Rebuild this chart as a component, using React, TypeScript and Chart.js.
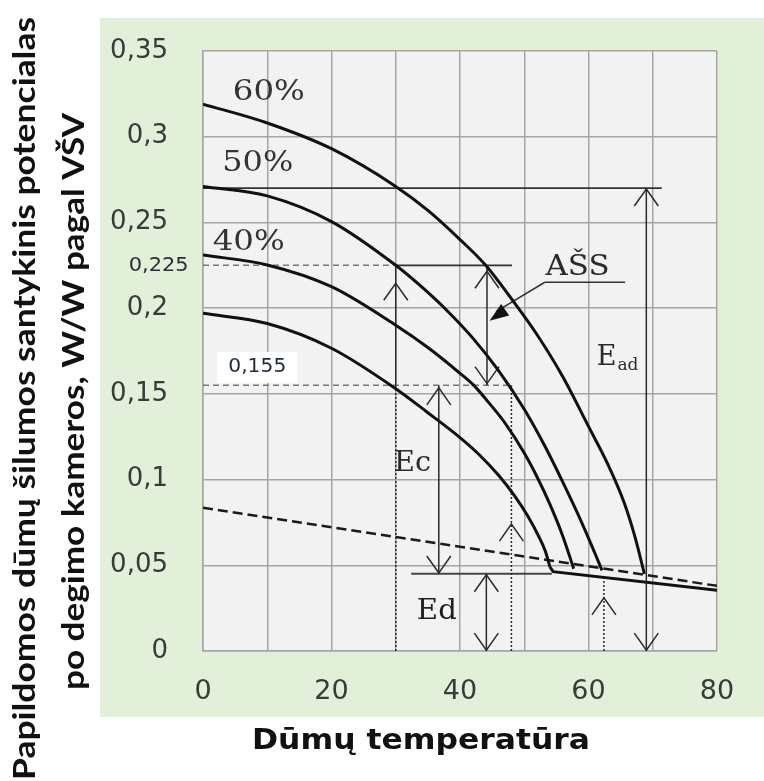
import React, { useEffect, useRef } from 'react';
import { Chart, registerables } from 'chart.js';
Chart.register(...registerables);

// ---- data ----
const X_TICK_VALUES = [0, 20, 40, 60, 80];
const X_TICK_LABELS = ['0', '20', '40', '60', '80'];
const Y_TICK_LABELS = ['0', '0,05', '0,1', '0,15', '0,2', '0,25', '0,3', '0,35'];

const T60 = [0, 10, 20, 30, 35, 40, 44, 48, 52, 56, 60, 63, 65.5, 67.2, 68.7];
const P60 = [0.319, 0.308, 0.293, 0.271, 0.257, 0.240, 0.225, 0.2055, 0.1845, 0.160, 0.131, 0.109, 0.087, 0.067, 0.045];

const T50 = [0, 10, 20, 30, 34, 38, 42, 46, 50, 53, 56, 59, 61, 62.1];
const P50 = [0.271, 0.2655, 0.2505, 0.225, 0.2125, 0.1985, 0.1825, 0.1635, 0.141, 0.121, 0.0985, 0.0745, 0.057, 0.047];

const T40 = [0, 10, 20, 30, 35, 40, 42, 44, 47, 50, 52, 54, 56, 57.7];
const P40 = [0.231, 0.2252, 0.2125, 0.190, 0.177, 0.162, 0.1555, 0.147, 0.133, 0.1155, 0.1015, 0.0855, 0.067, 0.048];

const T30 = [0, 10, 20, 30, 35, 40, 43, 46, 48.5, 50.5, 52.3, 53.3, 54];
const P30 = [0.197, 0.191, 0.1766, 0.153, 0.139, 0.1245, 0.1145, 0.1025, 0.0905, 0.079, 0.0665, 0.058, 0.049];

const BASE_T = [54, 54.5, 80];
const BASE_P = [0.049, 0.0463, 0.0355];

const DASH_T = [0, 80];
const DASH_P = [0.0836, 0.038];

// annotation levels
const LEVEL_EAD = 0.27;
const LEVEL_HI = 0.225;
const LEVEL_LO = 0.155;
const LEVEL_ED = 0.045;

const SANS = '"DejaVu Sans", Verdana, sans-serif';
const SERIF = '"DejaVu Serif", "Liberation Serif", serif';
const TITLE = 'Lato, "Open Sans", sans-serif';

const GRID = '#a5a5a5';
const INK = '#2a2a2a';

function fitText(ctx: CanvasRenderingContext2D, text: string, cx: number, baseY: number, font: string, width: number, rot = 0, baseline: CanvasTextBaseline = 'alphabetic') {
  ctx.save();
  ctx.font = font;
  const w = ctx.measureText(text).width;
  ctx.translate(cx, baseY);
  if (rot) ctx.rotate(rot);
  ctx.scale(width / w, 1);
  ctx.textAlign = 'center';
  ctx.textBaseline = baseline;
  ctx.fillText(text, 0, 0);
  ctx.restore();
}

const decor = {
  id: 'decor',
  beforeDraw(chart: any) {
    const { ctx, chartArea: a } = chart;
    ctx.save();
    ctx.fillStyle = '#ffffff';
    ctx.fillRect(0, 0, chart.width, chart.height);
    ctx.fillStyle = '#e2efd9';
    ctx.fillRect(100, 18, chart.width - 100, 699);
    ctx.fillStyle = '#f2f2f2';
    ctx.fillRect(a.left, a.top, a.right - a.left, a.bottom - a.top);
    ctx.fillStyle = '#111';
    fitText(ctx, 'Papildomos dūmų šilumos santykinis potencialas', 35, 398.5, `bold 31px ${TITLE}`, 763, -Math.PI / 2);
    fitText(ctx, 'po degimo kameros, W/W pagal VŠV', 84, 401.5, `bold 31px ${TITLE}`, 577, -Math.PI / 2);
    fitText(ctx, 'Dūmų temperatūra', 421, 749, `bold 29px ${SANS}`, 338);
    ctx.restore();
  },
  beforeDatasetsDraw(chart: any) {
    const { ctx } = chart;
    const xs = chart.scales.x, ys = chart.scales.y;
    const px = (v: number) => xs.getPixelForValue(v);
    const py = (v: number) => ys.getPixelForValue(v);
    ctx.save();
    ctx.lineCap = 'butt';
    const line = (x1: number, y1: number, x2: number, y2: number, dash: number[] = [], color = INK, w = 1.5) => {
      ctx.beginPath();
      ctx.setLineDash(dash);
      ctx.strokeStyle = color;
      ctx.lineWidth = w;
      ctx.moveTo(px(x1), py(y1));
      ctx.lineTo(px(x2), py(y2));
      ctx.stroke();
      ctx.setLineDash([]);
    };
    const chev = (x: number, y: number, dir: number) => {
      const X = px(x), Y = py(y);
      ctx.beginPath();
      ctx.strokeStyle = INK;
      ctx.lineWidth = 1.5;
      ctx.moveTo(X - 12, Y - dir * 17);
      ctx.lineTo(X, Y);
      ctx.lineTo(X + 12, Y - dir * 17);
      ctx.stroke();
    };
    // white box behind 0,155
    ctx.fillStyle = '#ffffff';
    ctx.fillRect(px(8.45) - 40, py(0.1654) - 15.5, 80, 31);

    // horizontal reference lines
    line(0, LEVEL_EAD, 71.4, LEVEL_EAD, [], '#333', 1.8);
    line(0, LEVEL_HI, 30, LEVEL_HI, [6, 4], '#777');
    line(30, LEVEL_HI, 48.1, LEVEL_HI, [], '#333', 1.8);
    line(0, LEVEL_LO, 48.2, LEVEL_LO, [6, 4], '#777');
    line(32.4, LEVEL_ED, 54.3, LEVEL_ED, [], '#444', 2);

    // x = 30
    line(30, 0, 30, LEVEL_LO, [2, 2]);
    line(30, LEVEL_LO, 30, LEVEL_HI);
    chev(30, 0.2145, -1);
    // AŠS arrow
    line(44.2, LEVEL_LO, 44.2, LEVEL_HI);
    chev(44.2, 0.2215, -1);
    chev(44.2, 0.156, 1);
    // Ec arrow
    line(36.7, LEVEL_ED, 36.7, LEVEL_LO);
    chev(36.7, 0.1535, -1);
    chev(36.7, 0.0455, 1);
    // Ed arrow
    line(44.1, 0, 44.1, LEVEL_ED);
    chev(44.1, 0.0445, -1);
    chev(44.1, 0.0005, 1);
    // x = 48 dotted
    line(48.0, 0, 48.0, LEVEL_LO, [2, 2]);
    chev(48.0, 0.074, -1);
    // x = 62.4 dotted
    line(62.4, 0, 62.4, 0.044, [2, 2]);
    chev(62.4, 0.031, -1);
    // E_ad arrow
    line(69.0, 0, 69.0, LEVEL_EAD);
    chev(69.0, 0.2695, -1);
    chev(69.0, 0.0005, 1);

    // AŠS underline + leader
    line(53.2, 0.2151, 65.7, 0.2151, [], '#333', 1.5);
    line(53.2, 0.2151, 45.6, 0.198, [], '#333', 1.5);
    const tx = px(44.6), ty = py(0.1927);
    const fx = px(53.2), fy = py(0.2151);
    const ang = Math.atan2(fy - ty, fx - tx);
    const L = 19, Wd = 7;
    const bx = tx + L * Math.cos(ang), by = ty + L * Math.sin(ang);
    ctx.beginPath();
    ctx.fillStyle = '#111';
    ctx.moveTo(tx, ty);
    ctx.lineTo(bx + Wd * Math.sin(ang), by - Wd * Math.cos(ang));
    ctx.lineTo(bx - Wd * Math.sin(ang), by + Wd * Math.cos(ang));
    ctx.closePath();
    ctx.fill();
    ctx.restore();
  },
  afterDatasetsDraw(chart: any) {
    const { ctx } = chart;
    const xs = chart.scales.x, ys = chart.scales.y;
    const px = (v: number) => xs.getPixelForValue(v);
    const py = (v: number) => ys.getPixelForValue(v);
    ctx.save();
    const lab = (s: string, x: number, y: number, font: string, width: number, color = INK) => {
      ctx.fillStyle = color;
      fitText(ctx, s, px(x), py(y), font, width, 0, 'middle');
    };
    lab('60%', 10.24, 0.3258, `28px ${SERIF}`, 72, '#333');
    lab('50%', 8.52, 0.2841, `28px ${SERIF}`, 71, '#333');
    lab('40%', 7.12, 0.2383, `28px ${SERIF}`, 72, '#333');
    lab('AŠS', 58.3, 0.2233, `27px ${SERIF}`, 64);
    lab('Ec', 32.6, 0.1092, `27px ${SERIF}`, 37);
    lab('Ed', 36.4, 0.0229, `27px ${SERIF}`, 40, '#1e1e1e');
    // E_ad
    ctx.fillStyle = INK;
    ctx.textAlign = 'left';
    ctx.textBaseline = 'alphabetic';
    ctx.font = `27px ${SERIF}`;
    const ex = px(63.0) - 11, ey = py(0.1727) + 10;
    ctx.fillText('E', ex, ey);
    const ew = ctx.measureText('E').width;
    ctx.font = `17px ${SERIF}`;
    ctx.fillText('ad', ex + ew + 1, ey + 5);
    // side value labels
    lab('0,225', -6.9, 0.2246, `19px ${SANS}`, 60, '#2e2e38');
    lab('0,155', 8.45, 0.1654, `19px ${SANS}`, 58, '#1e2a3c');
    ctx.restore();
  },
};

export default function App() {
  const ref = useRef<HTMLCanvasElement>(null);
  useEffect(() => {
    const canvas = ref.current!;
    const mk = (xs: number[], ys: number[]) => xs.map((x, i) => ({ x, y: ys[i] }));
    const curve = (xs: number[], ys: number[]) => ({
      data: mk(xs, ys),
      borderColor: '#111',
      borderWidth: 3,
      pointRadius: 0,
      cubicInterpolationMode: 'monotone' as const,
      fill: false,
    });
    const chart = new Chart(canvas, {
      type: 'line',
      data: {
        datasets: [
          curve(T60, P60),
          curve(T50, P50),
          curve(T40, P40),
          curve(T30, P30),
          { data: mk(BASE_T, BASE_P), borderColor: '#111', borderWidth: 3, pointRadius: 0, tension: 0, fill: false },
          { data: mk(DASH_T, DASH_P), borderColor: '#1a1a1a', borderWidth: 2.5, borderDash: [10, 5], pointRadius: 0, tension: 0, fill: false },
        ] as any,
      },
      options: {
        animation: false,
        responsive: false,
        devicePixelRatio: 1,
        layout: { padding: { top: 51, right: 47, left: 0, bottom: 0 } },
        plugins: { legend: { display: false }, tooltip: { enabled: false } },
        scales: {
          x: {
            type: 'linear',
            min: 0,
            max: 80,
            afterFit: (s: any) => { s.height = 130; },
            ticks: {
              stepSize: 10,
              autoSkip: false,
              maxRotation: 0,
              padding: 25,
              color: '#3a3a3a',
              font: { family: SANS, size: 27 },
              callback: (v: any) => {
                const i = X_TICK_VALUES.indexOf(Number(v));
                return i >= 0 ? X_TICK_LABELS[i] : '';
              },
            },
            grid: { color: GRID, lineWidth: 1.5, drawTicks: false },
            border: { display: true, color: GRID, width: 1.5 },
          },
          y: {
            min: 0,
            max: 0.35,
            afterFit: (s: any) => { s.width = 203; },
            ticks: {
              stepSize: 0.05,
              padding: 35,
              color: '#3a3a3a',
              font: { family: SANS, size: 26 },
              callback: (v: any) => Y_TICK_LABELS[Math.round(Number(v) / 0.05)] ?? '',
            },
            grid: { color: GRID, lineWidth: 1.5, drawTicks: false },
            border: { display: true, color: GRID, width: 1.5 },
          },
        },
      } as any,
      plugins: [decor],
    });
    return () => chart.destroy();
  }, []);
  return (
    <div style={{ position: 'fixed', left: 0, top: 0, width: 764, height: 781 }}>
      <canvas ref={ref} width={764} height={781} style={{ display: 'block', width: 764, height: 781 }} />
    </div>
  );
}
